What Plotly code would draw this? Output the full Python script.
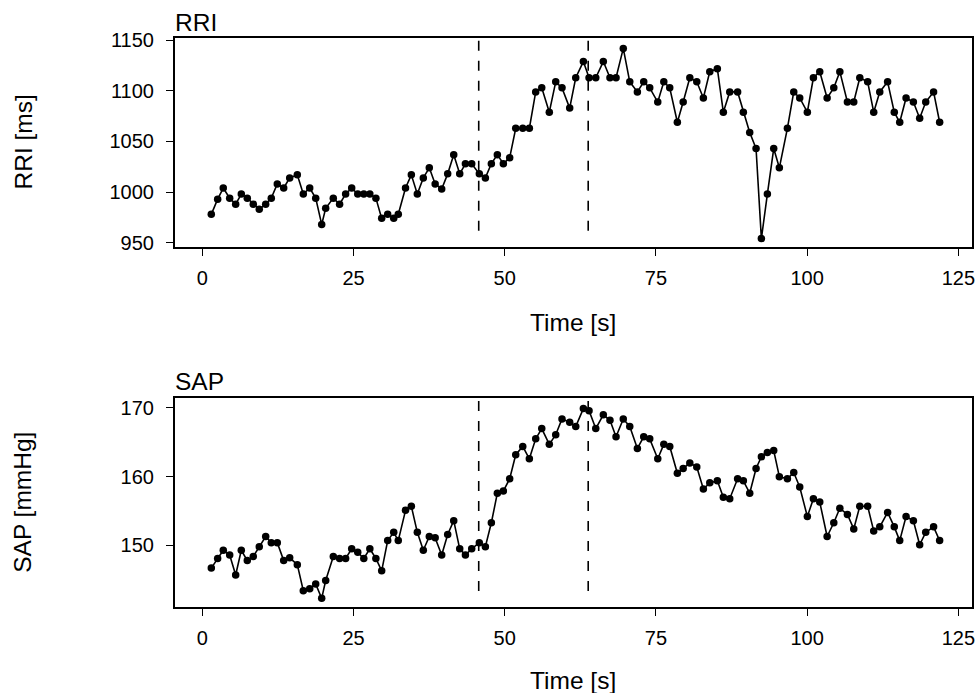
import plotly.graph_objects as go

# ---- data ----
time_s = [1.49, 2.54, 3.47, 4.53, 5.52, 6.45, 7.44, 8.43, 9.42, 10.48,
          11.41, 12.40, 13.46, 14.45, 15.71, 16.70, 17.76, 18.75, 19.74, 20.40,
          21.66, 22.70, 23.70, 24.70, 25.70, 26.70, 27.70, 28.70, 29.66, 30.65,
          31.65, 32.40, 33.60, 34.56, 35.55, 36.54, 37.53, 38.50, 39.58, 40.57,
          41.57, 42.56, 43.50, 44.54, 45.80, 46.80, 47.79, 48.78, 49.77, 50.82,
          51.82, 52.98, 54.07, 55.12, 56.12, 57.37, 58.43, 59.47, 60.74, 61.74,
          63.00, 63.94, 65.05, 66.30, 67.40, 68.40, 69.60, 70.67, 71.93, 72.98,
          73.97, 75.30, 76.30, 77.28, 78.54, 79.50, 80.60, 81.75, 82.84, 83.90,
          85.15, 86.14, 87.20, 88.50, 89.45, 90.50, 91.55, 92.43, 93.42, 94.47,
          95.40, 96.73, 97.78, 98.77, 100.03, 101.03, 102.08, 103.30, 104.40, 105.40,
          106.65, 107.70, 108.70, 110.00, 111.00, 112.00, 113.30, 114.40, 115.30, 116.35,
          117.56, 118.60, 119.60, 120.90, 121.90]

rri_ms = [978, 993, 1004, 994, 988, 998, 994, 988, 983, 988,
          994, 1008, 1004, 1014, 1017, 998, 1004, 994, 968, 984,
          994, 988, 998, 1004, 998, 998, 998, 994, 974, 978,
          974, 978, 1004, 1017, 998, 1014, 1024, 1008, 1003, 1018,
          1037, 1018, 1028, 1028, 1018, 1014, 1028, 1037, 1028, 1034,
          1063, 1063, 1063, 1099, 1103, 1079, 1109, 1103, 1083, 1113,
          1129, 1113, 1113, 1129, 1113, 1113, 1142, 1109, 1099, 1109,
          1103, 1089, 1109, 1103, 1069, 1089, 1113, 1109, 1093, 1119,
          1122, 1079, 1099, 1099, 1079, 1059, 1043, 954, 998, 1043,
          1024, 1063, 1099, 1093, 1079, 1113, 1119, 1093, 1103, 1119,
          1089, 1089, 1113, 1109, 1079, 1099, 1109, 1079, 1069, 1093,
          1089, 1073, 1089, 1099, 1069]

sap_mmhg = [146.7, 148.1, 149.3, 148.6, 145.7, 149.3, 147.8, 148.4, 149.8, 151.3,
            150.4, 150.4, 147.8, 148.2, 147.2, 143.4, 143.7, 144.4, 142.3, 144.9,
            148.4, 148.1, 148.1, 149.5, 149.0, 148.1, 149.5, 148.1, 146.3, 150.7,
            151.9, 150.7, 155.1, 155.7, 151.9, 149.3, 151.3, 151.1, 148.6, 151.6,
            153.6, 149.5, 148.6, 149.5, 150.4, 149.8, 153.3, 157.6, 157.9, 159.7,
            163.2, 164.4, 162.6, 165.5, 167.0, 164.7, 166.1, 168.4, 167.9, 167.3,
            169.9, 169.6, 167.0, 169.0, 168.2, 165.8, 168.4, 167.3, 164.1, 165.8,
            165.5, 162.6, 164.7, 164.4, 160.5, 161.2, 162.0, 161.4, 158.2, 159.1,
            159.4, 157.0, 156.8, 159.7, 159.4, 157.6, 161.2, 162.9, 163.5, 163.8,
            160.0, 159.7, 160.6, 158.5, 154.2, 156.8, 156.3, 151.3, 153.3, 155.4,
            154.5, 152.4, 155.7, 155.7, 152.1, 152.7, 154.8, 152.7, 150.7, 154.2,
            153.6, 150.1, 151.9, 152.7, 150.7]

event_times = [45.7, 63.8]
x_ticks = [0, 25, 50, 75, 100, 125]
rri_ticks = [950, 1000, 1050, 1100, 1150]
sap_ticks = [150, 160, 170]

FONT = "Liberation Sans, Arial, sans-serif"
TICK_FS = 20
TITLE_FS = 24.5
W, H = 978, 693

fig = go.Figure()

marker = dict(color="black", size=7.5)
line = dict(color="black", width=1.6)
fig.add_trace(go.Scatter(x=time_s, y=rri_ms, mode="lines+markers",
                         marker=marker, line=line, xaxis="x", yaxis="y",
                         showlegend=False))
fig.add_trace(go.Scatter(x=time_s, y=sap_mmhg, mode="lines+markers",
                         marker=marker, line=line, xaxis="x2", yaxis="y2",
                         showlegend=False))

for t in event_times:
    fig.add_shape(type="line", xref="x", yref="y", x0=t, x1=t, y0=1149.5, y1=953,
                  line=dict(color="black", width=1.6, dash="10px,10px"))
    fig.add_shape(type="line", xref="x2", yref="y2", x0=t, x1=t, y0=171.0, y1=142.0,
                  line=dict(color="black", width=1.6, dash="10px,10px"))

xdom = [174.7 / W, 971.7 / W]
top_dom = [1 - 246.7 / H, 1 - 38.3 / H]
bot_dom = [1 - 607.3 / H, 1 - 398.3 / H]

axis_common = dict(showline=True, mirror=True, linecolor="black", linewidth=1.6,
                   ticks="outside", ticklen=7, tickwidth=1.4, tickcolor="black",
                   showgrid=False, zeroline=False, automargin=False,
                   tickfont=dict(family=FONT, size=TICK_FS, color="black"))

xr = [-4.56, 127.2]
fig.update_layout(
    width=W, height=H, autosize=False,
    margin=dict(l=0, r=0, t=0, b=0, pad=0, autoexpand=False),
    paper_bgcolor="white", plot_bgcolor="white",
    font=dict(family=FONT, color="black"),
    xaxis=dict(domain=xdom, anchor="y", range=xr, tickvals=x_ticks,
               ticklabelstandoff=5, **axis_common),
    yaxis=dict(domain=top_dom, anchor="x", range=[946, 1152], tickvals=rri_ticks,
               ticklabelstandoff=8, **axis_common),
    xaxis2=dict(domain=xdom, anchor="y2", range=xr, tickvals=x_ticks,
                ticklabelstandoff=5, **axis_common),
    yaxis2=dict(domain=bot_dom, anchor="x2", range=[141.0, 171.4], tickvals=sap_ticks,
                ticklabelstandoff=8, **axis_common),
)

tfont = dict(family=FONT, size=TITLE_FS, color="black")
ann = [
    dict(text="RRI", x=173 / W, y=1 - 22.5 / H, xanchor="left", yanchor="middle"),
    dict(text="SAP", x=173 / W, y=1 - 381.3 / H, xanchor="left", yanchor="middle"),
    dict(text="Time [s]", x=(xdom[0] + xdom[1]) / 2, y=1 - 322 / H,
         xanchor="center", yanchor="middle"),
    dict(text="Time [s]", x=(xdom[0] + xdom[1]) / 2, y=1 - 680 / H,
         xanchor="center", yanchor="middle"),
    dict(text="RRI [ms]", x=23 / W, y=(top_dom[0] + top_dom[1]) / 2, textangle=-90,
         xanchor="center", yanchor="middle"),
    dict(text="SAP [mmHg]", x=23 / W, y=(bot_dom[0] + bot_dom[1]) / 2, textangle=-90,
         xanchor="center", yanchor="middle"),
]
for a in ann:
    fig.add_annotation(xref="paper", yref="paper", showarrow=False, font=tfont, **a)

fig.write_html("out.html",
               config={"displayModeBar": False},
               post_script="document.body.style.margin='0px';"
                           "document.body.style.overflow='hidden';")
